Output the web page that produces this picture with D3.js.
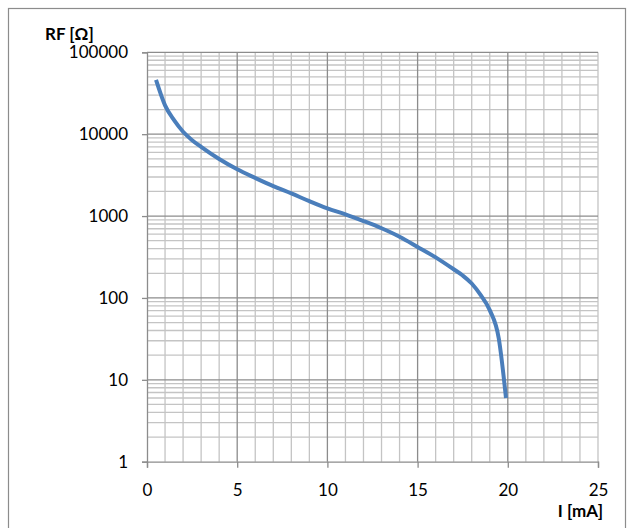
<!DOCTYPE html>
<html>
<head>
<meta charset="utf-8">
<script src="https://cdn.jsdelivr.net/npm/d3@7"></script>
<style>
  body { margin: 0; background: #fff; }
  svg { display: block; font-family: Lato, "Open Sans", sans-serif; }
</style>
</head>
<body>
<svg id="chart" width="627" height="528"></svg>
<script>
// current I [mA] and resistance RF [Ohm]
const currentMA = [0.5, 1, 1.5, 2, 2.5, 3, 4, 5, 6, 7, 8, 9, 10, 11, 12, 13, 14, 15, 16, 17, 17.5, 18, 18.5, 19, 19.5, 19.9];
const resistance = [46000, 22500, 14800, 10700, 8450, 7000, 4970, 3720, 2920, 2320, 1890, 1520, 1240, 1050, 870, 710, 560, 420, 313, 224, 188, 150, 108, 71, 32, 6];

const xTicks = [0, 5, 10, 15, 20, 25];
const yTicks = [1, 10, 100, 1000, 10000, 100000];

const width = 627;
const height = 528;
const margin = { top: 52.3, right: 29, bottom: 66.3, left: 147 };

const svg = d3.select('#chart');

// outer frame
svg.append('rect')
    .attr('x', 8.5).attr('y', 8.5)
    .attr('width', 617).attr('height', 530)
    .attr('fill', 'none')
    .attr('stroke', '#8c8c8c')
    .attr('stroke-width', 1.2);

const x = d3.scaleLinear().domain([0, 25]).range([margin.left, width - margin.right]);
const y = d3.scaleLog().domain([1, 100000]).range([height - margin.bottom, margin.top]);

const grid = svg.append('g');

// minor vertical lines every 1 mA
grid.selectAll('.vminor')
    .data(d3.range(0, 26).filter(d => d % 5 !== 0 || d === 25))
    .enter().append('line')
    .attr('x1', d => x(d)).attr('x2', d => x(d))
    .attr('y1', y(1)).attr('y2', y(100000))
    .attr('stroke', '#c4c4c4').attr('stroke-width', 1.3);

// minor horizontal lines 2..9 per decade
grid.selectAll('.hminor')
    .data(y.ticks().filter(d => !yTicks.includes(d)))
    .enter().append('line')
    .attr('x1', x(0)).attr('x2', x(25))
    .attr('y1', d => y(d)).attr('y2', d => y(d))
    .attr('stroke', '#c4c4c4').attr('stroke-width', 1.3);

// major lines
grid.selectAll('.vmajor')
    .data(xTicks.filter(d => d > 0 && d < 25))
    .enter().append('line')
    .attr('x1', d => x(d)).attr('x2', d => x(d))
    .attr('y1', y(1)).attr('y2', y(100000))
    .attr('stroke', '#8c8c8c').attr('stroke-width', 1.3);

grid.selectAll('.hmajor')
    .data(yTicks.filter(d => d > 1))
    .enter().append('line')
    .attr('x1', x(0)).attr('x2', x(25))
    .attr('y1', d => y(d)).attr('y2', d => y(d))
    .attr('stroke', '#8c8c8c').attr('stroke-width', 1.3);

// axes
const yAxis = svg.append('g')
    .attr('transform', `translate(${x(0)},0)`)
    .call(d3.axisLeft(y).tickValues(yTicks).tickFormat(d => d).tickSize(5).tickPadding(14));

const xAxis = svg.append('g')
    .attr('transform', `translate(0,${y(1)})`)
    .call(d3.axisBottom(x).tickValues(xTicks).tickSize(6).tickPadding(16));

[yAxis, xAxis].forEach(ax => {
    ax.select('.domain').attr('stroke', '#8c8c8c').attr('stroke-width', 1.3);
    ax.selectAll('.tick line').attr('stroke', '#8c8c8c').attr('stroke-width', 1.3);
    ax.selectAll('.tick text')
        .attr('fill', '#000')
        .style('font-size', '17px')
        .style('font-family', 'Lato, "Open Sans", sans-serif');
});

// the curve
const line = d3.line()
    .x((d, i) => x(currentMA[i]))
    .y(d => y(d))
    .curve(d3.curveMonotoneX);

svg.append('path')
    .datum(resistance)
    .attr('d', line)
    .attr('fill', 'none')
    .attr('stroke', '#4a7ebb')
    .attr('stroke-width', 4)
    .attr('stroke-linejoin', 'round')
    .attr('stroke-linecap', 'butt');

// axis titles
svg.append('text')
    .attr('x', 45).attr('y', 39.5)
    .style('font-size', '17px')
    .style('font-weight', 'bold')
    .text('RF [Ω]');

svg.append('text')
    .attr('x', 603).attr('y', 517)
    .style('font-size', '17px')
    .style('font-weight', 'bold')
    .style('text-anchor', 'end')
    .text('I [mA]');
</script>
</body>
</html>
